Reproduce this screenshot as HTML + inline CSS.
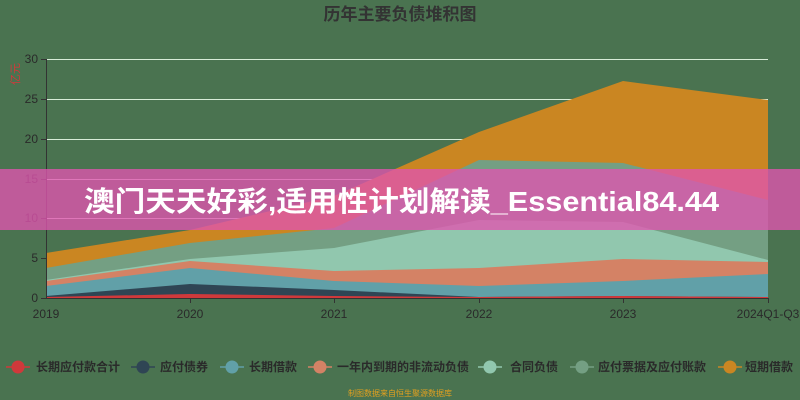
<!DOCTYPE html>
<html><head><meta charset="utf-8"><style>
html,body{margin:0;padding:0;background:#4a7350;}
svg{display:block;font-family:"Liberation Sans","Noto Sans CJK SC",sans-serif;}
</style></head><body>
<svg width="800" height="400" viewBox="0 0 800 400" xmlns="http://www.w3.org/2000/svg">
<rect width="800" height="400" fill="#4a7350"/>
<text x="400" y="20" text-anchor="middle" font-size="17" font-weight="bold" fill="#333">历年主要负债堆积图</text>
<text transform="translate(19,74) rotate(-90)" text-anchor="middle" font-size="11" fill="#d0393b">亿元</text>
<g stroke="#d8ecd8" stroke-width="1">
<line x1="46" y1="59.5" x2="768" y2="59.5"/>
<line x1="46" y1="99.5" x2="768" y2="99.5"/>
<line x1="46" y1="139.5" x2="768" y2="139.5"/>
<line x1="46" y1="179.5" x2="768" y2="179.5"/>
<line x1="46" y1="218.5" x2="768" y2="218.5"/>
<line x1="46" y1="258.5" x2="768" y2="258.5"/>
</g>
<polygon fill="#ca8622" points="46,253 190,230 334,196 479,132 623,81 768,100 768,298 46,298"/>
<polygon fill="#749f83" points="46,268 190,243 334,228 479,160 623,163 768,200 768,298 46,298"/>
<polygon fill="#91c7ae" points="46,280 190,259 334,248 479,220 623,222 768,260 768,298 46,298"/>
<polygon fill="#d48265" points="46,281 190,261 334,271 479,268 623,259 768,262 768,298 46,298"/>
<polygon fill="#61a0a8" points="46,286 190,268 334,281 479,286 623,281 768,274 768,298 46,298"/>
<polygon fill="#2f4554" points="46,296 190,284 334,290 479,297 623,296 768,297 768,298 46,298"/>
<polygon fill="#d0393b" points="46,297 190,294 334,296 479,297 623,296 768,297 768,298 46,298"/>
<g stroke="#333" stroke-width="1">
<line x1="46.5" y1="59" x2="46.5" y2="298"/>
<line x1="46" y1="298.5" x2="768" y2="298.5"/>
<line x1="41" y1="59.5" x2="46" y2="59.5"/><line x1="41" y1="99.5" x2="46" y2="99.5"/>
<line x1="41" y1="139.5" x2="46" y2="139.5"/><line x1="41" y1="179.5" x2="46" y2="179.5"/>
<line x1="41" y1="218.5" x2="46" y2="218.5"/><line x1="41" y1="258.5" x2="46" y2="258.5"/>
<line x1="41" y1="298.5" x2="46" y2="298.5"/>
<line x1="190.5" y1="298" x2="190.5" y2="303"/><line x1="334.5" y1="298" x2="334.5" y2="303"/>
<line x1="479.5" y1="298" x2="479.5" y2="303"/><line x1="623.5" y1="298" x2="623.5" y2="303"/>
<line x1="768.5" y1="298" x2="768.5" y2="303"/>
</g>
<g font-size="12" fill="#2a2a2a" text-anchor="end">
<text x="38" y="63">30</text><text x="38" y="103">25</text><text x="38" y="143">20</text>
<text x="38" y="183">15</text><text x="38" y="222">10</text><text x="38" y="262">5</text><text x="38" y="302">0</text>
</g>
<g font-size="12" fill="#2a2a2a" text-anchor="middle">
<text x="46" y="318">2019</text><text x="190" y="318">2020</text><text x="334" y="318">2021</text>
<text x="479" y="318">2022</text><text x="623" y="318">2023</text><text x="768" y="318">2024Q1-Q3</text>
</g>
<g font-size="12" fill="#2a2a2a" font-weight="bold">
<line x1="6" y1="367" x2="30" y2="367" stroke="#d0393b" stroke-width="1.5"/><circle cx="18" cy="367" r="6.5" fill="#d0393b"/><text x="36" y="371">长期应付款合计</text>
<line x1="131" y1="367" x2="155" y2="367" stroke="#2f4554" stroke-width="1.5"/><circle cx="143" cy="367" r="6.5" fill="#2f4554"/><text x="160" y="371">应付债券</text>
<line x1="220" y1="367" x2="244" y2="367" stroke="#61a0a8" stroke-width="1.5"/><circle cx="232" cy="367" r="6.5" fill="#61a0a8"/><text x="249" y="371">长期借款</text>
<line x1="308" y1="367" x2="332" y2="367" stroke="#d48265" stroke-width="1.5"/><circle cx="320" cy="367" r="6.5" fill="#d48265"/><text x="337" y="371">一年内到期的非流动负债</text>
<line x1="478" y1="367" x2="502" y2="367" stroke="#91c7ae" stroke-width="1.5"/><circle cx="490" cy="367" r="6.5" fill="#91c7ae"/><text x="510" y="371">合同负债</text>
<line x1="570" y1="367" x2="594" y2="367" stroke="#749f83" stroke-width="1.5"/><circle cx="582" cy="367" r="6.5" fill="#749f83"/><text x="598" y="371">应付票据及应付账款</text>
<line x1="718" y1="367" x2="742" y2="367" stroke="#ca8622" stroke-width="1.5"/><circle cx="730" cy="367" r="6.5" fill="#ca8622"/><text x="745" y="371">短期借款</text>
</g>
<text x="400" y="396" text-anchor="middle" font-size="8" fill="#e0a020">制图数据来自恒生聚源数据库</text>
<rect x="0" y="169" width="800" height="61" fill="#e055b0" fill-opacity="0.78"/>
<text x="84" y="211" font-size="28" font-weight="bold" fill="#fff" textLength="635" lengthAdjust="spacingAndGlyphs">澳门天天好彩,适用性计划解读_Essential84.44</text>
</svg>
</body></html>
